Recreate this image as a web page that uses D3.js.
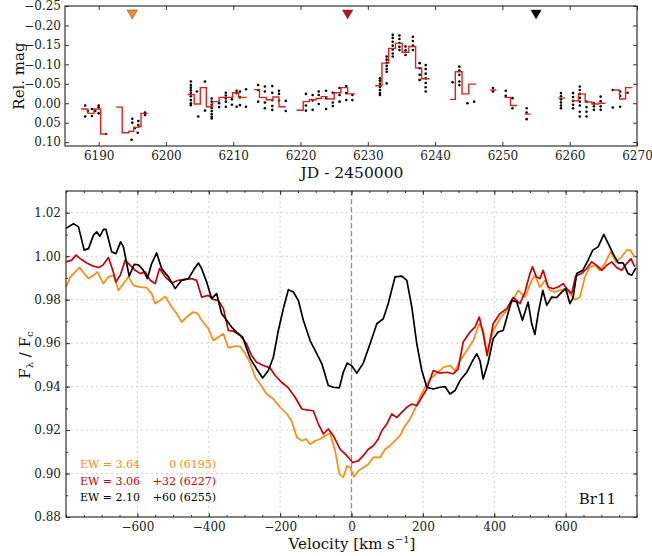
<!DOCTYPE html>
<html>
<head>
<meta charset="utf-8">
<script src="https://cdn.jsdelivr.net/npm/d3@7.9.0/dist/d3.min.js"></script>
<style>
  body { margin: 0; background: #fff; }
  text { font-family: "DejaVu Serif", serif; }
</style>
</head>
<body>
<svg id="chart" width="652" height="556"></svg>
<script>
// ---- top panel: light curve ----
// binned step line (null = gap between nights)
const stepJD = [6187.4, 6188.4, 6189.3, 6190.3, 6191.3, 6192.0,
  6192.6, 6193.5, 6194.5, 6195.2, 6195.9, 6196.3, 6197.3, 6200,
  6203.2, 6204.2, 6205.1, 6206.0, 6206.9, 6207.9, 6209.9, 6210.8, 6212.0, 6212.5,
  6213.1, 6213.9, 6214.9, 6215.9, 6216.8, 6217.8, 6218.5,
  6219.4, 6220.4, 6221.3, 6222.3, 6223.1, 6223.9, 6225.0, 6226.0, 6227.0, 6228.1, 6229,
  6231.1, 6232.1, 6233.1, 6234.1, 6235.1, 6236.1, 6237.1, 6238.0, 6239.2, 6240,
  6242.2, 6243.0, 6244.0, 6245.0, 6246.1, 6247,
  6248.2, 6249.1, 6249.5,
  6250.3, 6251.2, 6252.2, 6252.8,
  6253.3, 6254.2, 6255,
  6258.3, 6259.3, 6259.8,
  6260.3, 6261.3, 6262.3, 6263.3, 6264.3, 6265.3, 6265.8,
  6266.4, 6267.4, 6268.3, 6269.3];
const stepMag = [0.015, 0.026, 0.015, 0.079, 0.079, null,
  0.010, 0.076, 0.072, 0.062, 0.060, 0.026, 0.026, null,
  -0.022, 0.002, -0.040, 0.009, -0.004, -0.015, -0.027, -0.015, -0.015, null,
  -0.035, -0.015, -0.009, -0.016, 0.009, 0.009, null,
  0.018, -0.004, -0.009, -0.012, -0.017, -0.011, -0.027, -0.040, -0.024, -0.024, null,
  -0.045, -0.103, -0.141, -0.154, -0.131, -0.146, -0.091, -0.063, -0.063, null,
  -0.010, -0.081, -0.024, -0.049, -0.049, null,
  -0.034, -0.034, null,
  -0.015, 0.006, 0.006, null,
  0.028, 0.028, null,
  -0.013, -0.013, null,
  -0.006, -0.024, -0.003, 0.002, 0.000, 0.000, null,
  -0.034, -0.011, -0.040, -0.040];

// individual measurements, grouped by time stamp
const nightJD = [6188.0, 6188.4, 6189.0, 6189.5, 6190.0, 6191.1,
  6194.9, 6195.0, 6195.4, 6195.8, 6195.9, 6196.9,
  6203.7, 6204.6, 6204.8, 6205.8, 6206.8, 6207.9, 6208.9, 6209.8, 6210.5, 6211.0, 6211.9,
  6213.7, 6214.7, 6215.8, 6216.8, 6217.8,
  6220.8, 6221.8, 6222.7, 6223.8, 6224.8, 6225.8, 6226.8, 6227.7,
  6231.8, 6232.8, 6233.7, 6234.7, 6235.6, 6236.7, 6237.7, 6238.6,
  6242.6, 6243.6, 6244.8, 6245.8, 6248.6, 6250.5, 6251.5, 6253.6,
  6258.7, 6260.5, 6261.5, 6262.5, 6263.6, 6264.6, 6266.4, 6267.5, 6268.6];
const nightMags = [
  [0.006, 0.034], [0.020], [0.015, 0.033], [0.020], [0.006, 0.011, 0.026], [0.079],
  [0.094], [0.040, 0.050], [0.064], [0.076], [0.056, 0.046], [0.024, 0.030],
  [-0.056, -0.047, -0.040, -0.033, -0.026, -0.018, -0.008, 0.000, 0.005], [-0.030], [0.034],
  [-0.056, 0.019], [-0.012, -0.004, 0.004, 0.012, 0.020, 0.028, 0.035, 0.039], [0.000, 0.010],
  [-0.027, -0.020, -0.012, -0.004, 0.009], [-0.010, 0.004], [-0.026, -0.032, 0.009],
  [-0.030, -0.015, 0.005], [-0.036, 0.009],
  [-0.047, -0.034, -0.004], [-0.043, -0.030, -0.002, 0.013], [-0.044, -0.027, -0.008, 0.007, 0.017],
  [-0.032, -0.024, -0.007], [-0.006, 0.020],
  [-0.024, 0.006, 0.019], [-0.021, -0.007, 0.017], [-0.030, -0.021, 0.002], [-0.032, -0.013, 0.015],
  [-0.027, -0.002, 0.007], [-0.039, -0.021, -0.004], [-0.044, -0.026, -0.008], [-0.021, -0.008],
  [-0.064, -0.058, -0.050, -0.042, -0.034, -0.026, -0.021],
  [-0.120, -0.112, -0.104, -0.096, -0.088, -0.081, -0.051],
  [-0.176, -0.168, -0.158, -0.148, -0.138, -0.128, -0.120],
  [-0.174, -0.165, -0.155, -0.145, -0.137], [-0.146, -0.136, -0.124],
  [-0.171, -0.160, -0.148, -0.137], [-0.103, -0.090, -0.073, -0.060],
  [-0.098, -0.088, -0.076, -0.064, -0.052, -0.041, -0.030],
  [-0.054], [-0.094, -0.084, -0.073, -0.056, -0.047], [0.000], [-0.004], [-0.039, -0.030],
  [-0.032, -0.019], [-0.013, 0.013], [0.013, 0.024, 0.041],
  [-0.026, -0.018, -0.010, -0.002, 0.006, 0.013], [-0.026, -0.016, -0.006, 0.004, 0.013],
  [-0.043, -0.034, -0.024, -0.014, -0.004, 0.006, 0.022, 0.034], [-0.004, 0.010, 0.022, 0.034],
  [0.000, 0.008, 0.017], [-0.017, -0.005, 0.008, 0.017], [-0.034, 0.011],
  [-0.030, -0.019, 0.009], [-0.027]];

// epochs of the three spectra
const specJD = [6195, 6227, 6255];
const specColor = ["#ff8a0d", "#c8000a", "#000000"];
const markColor = ["#f08a24", "#b8111a", "#000000"];
const markMag = -0.232;

const jdTicks = [6190, 6200, 6210, 6220, 6230, 6240, 6250, 6260, 6270];
const magTicks = [-0.25, -0.20, -0.15, -0.10, -0.05, 0.00, 0.05, 0.10];

// ---- bottom panel: Br11 line profiles ----
const velOrange = [-800,-788,-774,-762,-749,-737,-723,-712,-695,-681,-667,-653,-639,-625,-611,-592,-574,-560,-550,-536,-522,-504,-490,-476,-462,-443,-431,-420,-401,-387,-373,-359,-345,-331,-312,-298,-284,-270,-256,-238,-219,-200,-181,-168,-153,-139,-127,-116,-102,-88,-74,-60,-46,-34,-23,-13,-4,7,19,33,47,61,80,94,108,122,136,150,164,178,192,206,220,238,257,276,290,304,323,341,358,369,380,397,416,435,453,467,486,505,514,528,542,556,570,584,598,612,626,640,654,668,682,696,710,726,741,757,771,780,794];
const fluxOrange = [0.9858,0.9905,0.9928,0.9948,0.992,0.9897,0.9912,0.9928,0.9874,0.9905,0.9912,0.9843,0.9874,0.9905,0.9866,0.9858,0.9855,0.9828,0.9782,0.9797,0.9815,0.9766,0.9736,0.9697,0.972,0.9743,0.9736,0.9705,0.9666,0.9612,0.9628,0.9643,0.9578,0.9585,0.9585,0.9551,0.951,0.9443,0.9412,0.9366,0.9343,0.9305,0.9274,0.9243,0.9166,0.9151,0.9159,0.9135,0.9151,0.9159,0.9174,0.9185,0.9105,0.8997,0.8982,0.9035,0.9028,0.8985,0.9012,0.9028,0.9043,0.9074,0.9074,0.9112,0.9128,0.9151,0.9175,0.922,0.9251,0.9297,0.9351,0.9397,0.9435,0.946,0.9489,0.9497,0.9474,0.952,0.9566,0.9612,0.9689,0.9658,0.9551,0.9658,0.9712,0.9751,0.9797,0.9843,0.9812,0.9889,0.9912,0.9858,0.9889,0.9843,0.9835,0.9843,0.985,0.9828,0.98,0.9812,0.9905,0.9951,0.9958,0.9935,0.9966,1.002,0.9974,0.9997,1.0028,1.0028,0.9997];

const velRed = [-800,-784,-772,-760,-742,-723,-709,-697,-681,-669,-660,-648,-634,-620,-606,-592,-578,-564,-550,-538,-522,-504,-485,-466,-448,-434,-420,-401,-387,-373,-359,-345,-331,-312,-294,-280,-266,-247,-228,-214,-196,-177,-158,-139,-121,-107,-93,-79,-65,-51,-32,-13,3,19,33,47,61,75,85,99,113,127,141,155,169,183,197,211,229,248,267,285,299,313,332,346,358,369,380,397,416,435,453,472,486,500,507,518,528,537,551,565,579,593,603,617,628,644,659,673,687,701,715,729,743,757,771,783,794];
const fluxRed = [0.9974,0.9982,1.0005,0.9989,0.9969,0.9954,0.9948,0.9958,0.9994,0.9935,0.9882,0.9912,0.9982,0.9958,0.9935,0.992,0.9928,0.9889,0.9874,0.9943,0.9905,0.9877,0.9889,0.9893,0.9897,0.9889,0.9812,0.982,0.98,0.9797,0.9759,0.9658,0.9655,0.9635,0.9597,0.9543,0.9512,0.9497,0.9486,0.9451,0.942,0.9394,0.9351,0.9297,0.9292,0.9289,0.9228,0.9182,0.9205,0.9174,0.9112,0.9082,0.9051,0.9058,0.9082,0.9112,0.9128,0.9159,0.9197,0.9228,0.9274,0.9258,0.9281,0.9305,0.932,0.9312,0.9351,0.9389,0.9474,0.9462,0.9466,0.9459,0.9482,0.9605,0.9651,0.9674,0.972,0.9643,0.9543,0.9689,0.9736,0.9759,0.981,0.9782,0.9835,0.992,0.9951,0.9905,0.9897,0.9935,0.9858,0.985,0.9858,0.9874,0.9851,0.9828,0.9908,0.992,0.9943,0.9974,0.9958,0.9935,0.9958,0.9974,0.9948,0.9935,0.9966,0.9989,0.9951];

const velBlack = [-800,-779,-765,-749,-737,-723,-714,-705,-695,-688,-672,-660,-647,-639,-623,-609,-597,-585,-572,-560,-546,-532,-513,-494,-476,-457,-443,-429,-420,-406,-392,-378,-364,-350,-336,-322,-305,-284,-266,-249,-233,-219,-205,-191,-177,-163,-149,-135,-116,-97,-83,-65,-51,-34,-23,-12,0,15,33,52,71,89,103,122,141,155,169,183,197,211,229,248,262,276,290,304,323,337,351,360,369,383,397,411,425,449,463,479,495,505,514,523,536,547,561,575,589,600,612,621,631,648,663,676,691,707,719,733,747,761,775,785,797];
const fluxBlack = [1.0128,1.015,1.0135,1.0028,1.0035,1.0097,1.0112,1.0092,1.0123,1.0123,1.002,1.0012,1.0066,1.0043,0.9908,0.9962,0.996,0.9939,0.9897,0.9966,1.0015,0.9943,0.9905,0.9851,0.9889,0.9897,0.9935,0.9969,0.9943,0.9882,0.9805,0.9828,0.9736,0.9705,0.9674,0.9651,0.9628,0.953,0.9482,0.944,0.9474,0.9535,0.9658,0.9759,0.9846,0.9835,0.9797,0.9705,0.9612,0.9551,0.9505,0.9405,0.9397,0.9394,0.9466,0.9508,0.9497,0.9462,0.9508,0.9597,0.9689,0.9712,0.9782,0.9905,0.9908,0.9889,0.9766,0.9597,0.9474,0.9397,0.9389,0.9397,0.940,0.9366,0.9382,0.9428,0.9466,0.9512,0.9551,0.952,0.9435,0.9512,0.962,0.9651,0.9658,0.9797,0.9789,0.9705,0.9789,0.9689,0.964,0.9736,0.9843,0.9774,0.9812,0.981,0.9835,0.9851,0.9782,0.981,0.992,0.9935,0.9982,1.0028,1.0043,1.01,1.0059,1.0012,0.9969,0.9969,0.992,0.9912,0.9946];

const legendEW = ["3.64", "3.06", "2.10"];
const legendShift = ["0 (6195)", "+32 (6227)", "+60 (6255)"];

const velTicks = [-600, -400, -200, 0, 200, 400, 600];
const velMinor = d3.range(-800, 801, 50);
const fluxTicks = [0.88, 0.90, 0.92, 0.94, 0.96, 0.98, 1.00, 1.02];
const fluxMinor = d3.range(0.88, 1.031, 0.01);

const svg = d3.select("#chart");
const spineColor = "#333";

function styleAxis(g, size) {
  g.select(".domain").remove();
  g.selectAll(".tick line").attr("stroke", spineColor).attr("stroke-width", 1);
  g.selectAll("text").attr("font-family", "DejaVu Serif").attr("font-size", size).attr("fill", "#222");
}

// ===== top panel =====
const xTop = d3.scaleLinear().domain([6185, 6270]).range([65, 637]);
const yTop = d3.scaleLinear().domain([-0.25, 0.11]).range([6, 146]);

const topPanel = svg.append("g");
topPanel.append("g").attr("transform", "translate(0,146)")
  .call(d3.axisBottom(xTop).tickValues(jdTicks).tickFormat(d3.format("d")).tickSizeInner(-4).tickSizeOuter(0).tickPadding(5))
  .call(g => styleAxis(g, 12));
topPanel.append("g").attr("transform", "translate(0,6)")
  .call(d3.axisTop(xTop).tickValues(jdTicks).tickFormat("").tickSizeInner(-4).tickSizeOuter(0))
  .call(g => styleAxis(g, 12));
topPanel.append("g").attr("transform", "translate(65,0)")
  .call(d3.axisLeft(yTop).tickValues(magTicks).tickFormat(d3.format(".2f")).tickSizeInner(-4).tickSizeOuter(0).tickPadding(4))
  .call(g => styleAxis(g, 12));
topPanel.append("g").attr("transform", "translate(637,0)")
  .call(d3.axisRight(yTop).tickValues(magTicks).tickFormat("").tickSizeInner(-4).tickSizeOuter(0))
  .call(g => styleAxis(g, 12));

const dots = [];
nightJD.forEach((jd, i) => nightMags[i].forEach(m => dots.push({ jd, m })));
topPanel.append("g").selectAll("circle").data(dots).join("circle")
  .attr("cx", d => xTop(d.jd)).attr("cy", d => yTop(d.m)).attr("r", 1.3).attr("fill", "#000");

const stepLine = d3.line()
  .defined((d, i) => stepMag[i] !== null)
  .x((d, i) => xTop(stepJD[i])).y((d, i) => yTop(stepMag[i]))
  .curve(d3.curveStepAfter);
topPanel.append("path").attr("d", stepLine(stepJD))
  .attr("fill", "none").attr("stroke", "#e0201e").attr("stroke-width", 1.4);

topPanel.append("g").selectAll("path").data(specJD).join("path")
  .attr("d", d3.symbol(d3.symbolTriangle, 48))
  .attr("transform", d => `translate(${xTop(d)},${yTop(markMag)}) rotate(180)`)
  .attr("fill", (d, i) => markColor[i])
  .attr("stroke", "#333").attr("stroke-width", 0.4);

topPanel.append("rect").attr("x", 65).attr("y", 6).attr("width", 572).attr("height", 140)
  .attr("fill", "none").attr("stroke", spineColor).attr("stroke-width", 1.2);

svg.append("text").attr("transform", "translate(24,76) rotate(-90)")
  .attr("text-anchor", "middle").attr("font-size", 15).attr("fill", "#111").text("Rel. mag");
svg.append("text").attr("x", 352).attr("y", 178)
  .attr("text-anchor", "middle").attr("font-size", 15.5).attr("fill", "#111").text("JD - 2450000");

// ===== bottom panel =====
const xBot = d3.scaleLinear().domain([-800, 800]).range([66, 637]);
const yBot = d3.scaleLinear().domain([0.88, 1.03]).range([517, 191]);

const botPanel = svg.append("g");
// grid
botPanel.append("g").selectAll("line").data(velTicks.filter(v => v !== 0)).join("line")
  .attr("x1", d => xBot(d)).attr("x2", d => xBot(d)).attr("y1", 191).attr("y2", 517)
  .attr("stroke", "#c4c4c4").attr("stroke-width", 0.8).attr("stroke-dasharray", "2,3");
botPanel.append("g").selectAll("line").data(fluxTicks.slice(1)).join("line")
  .attr("x1", 66).attr("x2", 637).attr("y1", d => yBot(d)).attr("y2", d => yBot(d))
  .attr("stroke", "#c4c4c4").attr("stroke-width", 0.8).attr("stroke-dasharray", "2,3");
botPanel.append("line").attr("x1", xBot(0)).attr("x2", xBot(0)).attr("y1", 191).attr("y2", 517)
  .attr("stroke", "#8c8c8c").attr("stroke-width", 1.3).attr("stroke-dasharray", "5,3");

botPanel.append("g").attr("transform", "translate(0,517)")
  .call(d3.axisBottom(xBot).tickValues(velMinor).tickFormat("").tickSizeInner(-2).tickSizeOuter(0))
  .call(g => styleAxis(g, 12));
botPanel.append("g").attr("transform", "translate(0,517)")
  .call(d3.axisBottom(xBot).tickValues(velTicks).tickFormat(d3.format("d")).tickSizeInner(-4).tickSizeOuter(0).tickPadding(5))
  .call(g => styleAxis(g, 12));
botPanel.append("g").attr("transform", "translate(0,191)")
  .call(d3.axisTop(xBot).tickValues(velMinor).tickFormat("").tickSizeInner(-2).tickSizeOuter(0))
  .call(g => styleAxis(g, 12));
botPanel.append("g").attr("transform", "translate(0,191)")
  .call(d3.axisTop(xBot).tickValues(velTicks).tickFormat("").tickSizeInner(-4).tickSizeOuter(0))
  .call(g => styleAxis(g, 12));
botPanel.append("g").attr("transform", "translate(66,0)")
  .call(d3.axisLeft(yBot).tickValues(fluxMinor).tickFormat("").tickSizeInner(-2).tickSizeOuter(0))
  .call(g => styleAxis(g, 12));
botPanel.append("g").attr("transform", "translate(66,0)")
  .call(d3.axisLeft(yBot).tickValues(fluxTicks).tickFormat(d3.format(".2f")).tickSizeInner(-4).tickSizeOuter(0).tickPadding(5))
  .call(g => styleAxis(g, 12));
botPanel.append("g").attr("transform", "translate(637,0)")
  .call(d3.axisRight(yBot).tickValues(fluxMinor).tickFormat("").tickSizeInner(-2).tickSizeOuter(0))
  .call(g => styleAxis(g, 12));
botPanel.append("g").attr("transform", "translate(637,0)")
  .call(d3.axisRight(yBot).tickValues(fluxTicks).tickFormat("").tickSizeInner(-4).tickSizeOuter(0))
  .call(g => styleAxis(g, 12));

const spectra = [
  { v: velOrange, f: fluxOrange, c: specColor[0] },
  { v: velRed, f: fluxRed, c: specColor[1] },
  { v: velBlack, f: fluxBlack, c: specColor[2] }
];
spectra.forEach(s => {
  const line = d3.line().x((d, i) => xBot(s.v[i])).y((d, i) => yBot(s.f[i]));
  botPanel.append("path").attr("d", line(s.v))
    .attr("fill", "none").attr("stroke", s.c).attr("stroke-width", 1.7)
    .attr("stroke-linejoin", "round");
});

botPanel.append("rect").attr("x", 66).attr("y", 191).attr("width", 571).attr("height", 326)
  .attr("fill", "none").attr("stroke", spineColor).attr("stroke-width", 1.2);

// legend text
legendEW.forEach((ew, i) => {
  const y = 468 + i * 16.5;
  botPanel.append("text").attr("x", 80).attr("y", y).attr("font-size", 11).attr("fill", specColor[i]).text(`EW = ${ew}`);
  botPanel.append("text").attr("x", 216).attr("y", y).attr("text-anchor", "end").attr("font-size", 11)
    .attr("fill", specColor[i]).text(legendShift[i]);
});
botPanel.append("text").attr("x", 616).attr("y", 504).attr("text-anchor", "end")
  .attr("font-size", 15).attr("fill", "#111").text("Br11");

// axis labels
const yl = svg.append("text").attr("transform", "translate(30,355) rotate(-90)")
  .attr("text-anchor", "middle").attr("font-size", 15).attr("fill", "#111");
yl.append("tspan").text("F");
yl.append("tspan").attr("font-size", 10).attr("dy", 3).text("λ");
yl.append("tspan").attr("dy", -3).text(" / F");
yl.append("tspan").attr("font-size", 10).attr("dy", 3).text("c");

const xl = svg.append("text").attr("x", 352).attr("y", 549)
  .attr("text-anchor", "middle").attr("font-size", 15).attr("fill", "#111");
xl.append("tspan").text("Velocity [km s");
xl.append("tspan").attr("font-size", 10).attr("dy", -6).text("−1");
xl.append("tspan").attr("dy", 6).text("]");
</script>
</body>
</html>
